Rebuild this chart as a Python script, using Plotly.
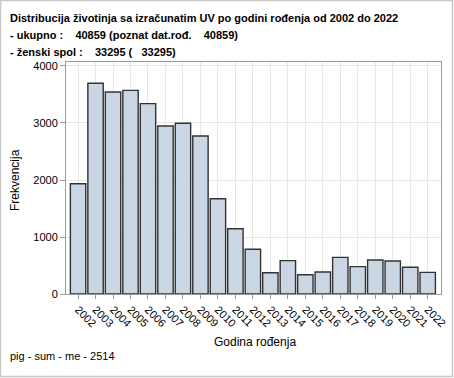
import plotly.graph_objects as go

years = [str(y) for y in range(2002, 2023)]
counts = [1935, 3696, 3544, 3573, 3339, 2947, 2995, 2772, 1672, 1146, 784,
          374, 585, 339, 386, 643, 480, 596, 579, 468, 380]

title_lines = [
    "Distribucija životinja sa izračunatim UV po godini rođenja od 2002 do 2022",
    "- ukupno :    40859 (poznat dat.rođ.    40859)",
    "- ženski spol :    33295 (   33295)",
]
footer = "pig - sum - me - 2514"
x_title = "Godina rođenja"
y_title = "Frekvencija"

W, H = 454, 378
L, R, T, B = 66, 441, 62, 294
pw, ph = R - L, B - T

def px(X):
    return (X - L) / pw

def py(Y):
    return (B - Y) / ph

fig = go.Figure(go.Bar(
    x=years, y=counts, width=0.88,
    marker=dict(color="#cbd6e5", line=dict(color="#333333", width=1.4)),
))

font = "Liberation Sans, Arial, sans-serif"
ann = []
for i, (t, yy) in enumerate(zip(title_lines, [18, 35, 52])):
    ann.append(dict(text="<b>%s</b>" % t.replace("  ", "&nbsp; "), x=px(8), y=py(yy), xref="paper", yref="paper",
                    xanchor="left", yanchor="middle", showarrow=False,
                    font=dict(size=11, color="black", family=font)))
ann.append(dict(text=footer, x=px(8), y=py(356), xref="paper", yref="paper",
                xanchor="left", yanchor="middle", showarrow=False,
                font=dict(size=11, color="black", family=font)))
ann.append(dict(text=x_title, x=px(255), y=py(342), xref="paper", yref="paper",
                xanchor="center", yanchor="middle", showarrow=False,
                font=dict(size=12, color="black", family=font)))
ann.append(dict(text=y_title, x=px(15), y=py(180), xref="paper", yref="paper",
                xanchor="center", yanchor="middle", showarrow=False, textangle=-90,
                font=dict(size=12, color="black", family=font)))

fig.update_layout(
    width=W, height=H,
    margin=dict(l=L, r=W - R, t=T, b=H - B, autoexpand=False),
    paper_bgcolor="white", plot_bgcolor="white",
    showlegend=False, annotations=ann,
    font=dict(family=font, size=11, color="black"),
    shapes=[dict(type="rect", xref="paper", yref="paper",
                 x0=px(0.5), x1=px(452.5), y0=py(376.5), y1=py(0.5),
                 line=dict(color="#c8c8c8", width=1.5), fillcolor="rgba(0,0,0,0)", layer="below")],
)
fig.update_xaxes(
    type="category", range=[-0.69, 20.76], tickangle=45, automargin=False,
    showgrid=True, gridcolor="#e8e8e8", gridwidth=1,
    showline=True, linecolor="#9a9a9a", linewidth=1, mirror=True,
    ticks="outside", ticklen=4, tickcolor="#9a9a9a",
    tickfont=dict(size=11, color="black"),
)
fig.update_yaxes(
    range=[0, 4070], tickvals=[0, 1000, 2000, 3000, 4000], automargin=False,
    showgrid=True, gridcolor="#e8e8e8", gridwidth=1, zeroline=False,
    showline=True, linecolor="#9a9a9a", linewidth=1, mirror=True,
    ticks="outside", ticklen=5, tickcolor="#9a9a9a",
    tickfont=dict(size=11, color="black"),
)
fig.write_html("out.html", config={"displayModeBar": False},
               post_script="document.body.style.margin='0';")
